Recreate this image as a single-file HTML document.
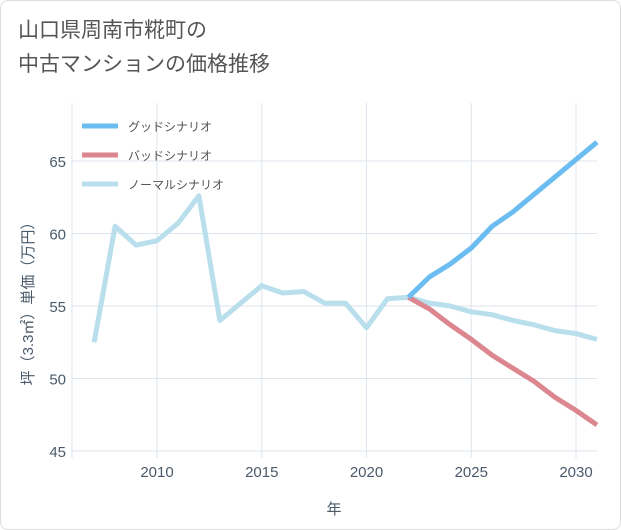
<!DOCTYPE html>
<html><head><meta charset="utf-8">
<style>
body{margin:0;background:#fff;font-family:"Liberation Sans","Noto Sans CJK JP",sans-serif;}
#card{position:absolute;left:0;top:0;width:619px;height:528px;border:1px solid #ddd;border-radius:8px;background:#fff;}
#title{position:absolute;left:18px;top:14px;font-size:21px;line-height:34px;color:#555;}
</style></head><body>
<div id="card"></div>
<div id="title">山口県周南市糀町の<br>中古マンションの価格推移</div>
<svg id="chart" width="621" height="530" style="position:absolute;left:0;top:0"></svg>
<script>
const years=[2007,2008,2009,2010,2011,2012,2013,2014,2015,2016,2017,2018,2019,2020,2021,2022,2023,2024,2025,2026,2027,2028,2029,2030,2031];
const normalVals=[52.5,60.5,59.2,59.5,60.7,62.6,54.0,55.2,56.4,55.9,56.0,55.2,55.2,53.5,55.5,55.6,55.2,55.0,54.6,54.4,54.0,53.7,53.3,53.1,52.7];
const futureYears=[2022,2023,2024,2025,2026,2027,2028,2029,2030,2031];
const goodVals=[55.6,57.0,57.9,59.0,60.5,61.5,62.7,63.9,65.1,66.3];
const badVals=[55.6,54.8,53.7,52.7,51.6,50.7,49.8,48.7,47.8,46.8];
const xTicks=[2010,2015,2020,2025,2030];
const yTicks=[45,50,55,60,65];
const legendLabels=["グッドシナリオ","バッドシナリオ","ノーマルシナリオ"];
const colors=["#6bbcf0","#dc8790","#b9dfed"];

const svg=document.getElementById('chart');
const NS="http://www.w3.org/2000/svg";
const L=72,R=597,T=103,B=458;
const x=v=>157+(v-2010)*(576-157)/20;
const y=v=>451-(v-45)*(451-161)/20;
function mk(tag,attrs,parent){const e=document.createElementNS(NS,tag);for(const k in attrs)e.setAttribute(k,attrs[k]);(parent||svg).appendChild(e);return e;}

for(const t of xTicks){
 const g=mk('line',{x1:x(t),x2:x(t),y1:T,y2:B,stroke:'#dde6ee','stroke-width':1});
 
 
 const tx=mk('text',{x:x(t),y:477,'text-anchor':'middle','font-size':15,fill:'#4a5a6a'});
 tx.textContent=t;
 
 
}
for(const t of yTicks){
 const g=mk('line',{x1:L,x2:R,y1:y(t),y2:y(t),stroke:'#dde6ee','stroke-width':1});
 
 
 const tx=mk('text',{x:66,y:y(t)+6,'text-anchor':'end','font-size':15,fill:'#4a5a6a'});
 tx.textContent=t;
 
 
}
const ax=mk('line',{x1:L,x2:L,y1:T,y2:B,stroke:'#dde6ee'});



function line(xs,vs,color,name){
 const p=mk('polyline',{points:xs.map((v,i)=>x(v)+','+y(vs[i])).join(' '),fill:'none',stroke:color,'stroke-width':5,'stroke-linejoin':'round','stroke-linecap':'butt'});
 
 
}
line(years,normalVals,colors[2],'normal-scenario-line');
line(futureYears,badVals,colors[1],'bad-scenario-line');
line(futureYears,goodVals,colors[0],'good-scenario-line');

legendLabels.forEach((lab,i)=>{
 const yy=126+i*29;
 const l=mk('line',{x1:82,x2:118,y1:yy,y2:yy,stroke:colors[i],'stroke-width':5});
 
 
 const t=mk('text',{x:128,y:yy+5,'font-size':12,fill:'#555'});
 t.textContent=lab;
 
 
});
const xt=mk('text',{x:334,y:514,'text-anchor':'middle','font-size':15,fill:'#4a5a6a'});
xt.textContent='年';


const yt=mk('text',{x:0,y:0,'text-anchor':'middle','font-size':15,fill:'#4a5a6a',transform:'translate(33,300) rotate(-90)'});
yt.textContent='坪（3.3㎡）単価（万円）';


</script>
</body></html>
